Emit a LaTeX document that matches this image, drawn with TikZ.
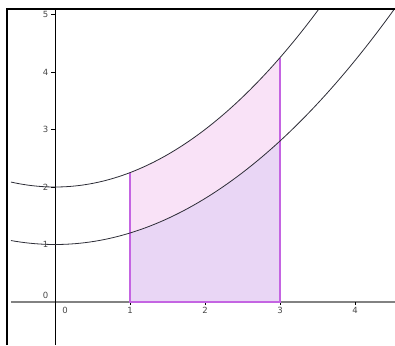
\documentclass[tikz,border=0pt]{standalone}
\usepackage{fontspec}
\setmainfont{DejaVu Sans}
\definecolor{axisgray}{RGB}{130,130,130}
\definecolor{labelgray}{RGB}{70,70,70}
\definecolor{upperfill}{RGB}{249,226,247}
\definecolor{lowerfill}{RGB}{233,214,245}
\definecolor{edgeviolet}{RGB}{196,100,226}
\definecolor{curvegray}{RGB}{45,45,55}

\begin{document}
\begin{tikzpicture}[
    x=75pt, y=57.5pt,
    curve/.style={curvegray, line width=0.8pt},
    edge/.style={edgeviolet, line width=1.4pt},
    lbl/.style={font=\fontsize{8.5}{9}\selectfont, text=labelgray, inner sep=0pt}
  ]
    \useasboundingbox (-0.7333,-0.7478) rectangle (4.5333,5.2522);

    % areas between x=1 and x=3
    \fill[upperfill] (1,0) -- plot[domain=1:3, samples=40] (\x,{2+\x*\x/4}) -- (3,0) -- cycle;
    \fill[lowerfill] (1,0) -- plot[domain=1:3, samples=40] (\x,{1+\x*\x/5}) -- (3,0) -- cycle;

    % axes
    \draw[axisgray, line width=1.5pt] (-0.587,0) -- (4.5333,0);
    \draw[black, line width=0.8pt] (0,-0.7478) -- (0,5.1);
    \foreach \y in {1,...,5}
      \draw[black, line width=0.6pt] (0,\y) -- ++(-4pt,0);
    \foreach \x in {1,...,4}
      \draw[black, line width=0.6pt] (\x,0) -- ++(0,-3pt);

    % borders of the areas
    \draw[edge] (1,2.25) -- (1,0) -- (3,0) -- (3,4.25);

    % the two curves
    \begin{scope}
      \clip (-0.64,-0.7478) rectangle (4.5333,5.0957);
      \draw[curve] plot[domain=-0.587:3.6, samples=80] (\x,{2+\x*\x/4});
      \draw[curve] plot[domain=-0.587:4.6, samples=80] (\x,{1+\x*\x/5});
    \end{scope}

    % labels
    \foreach \y in {1,...,5}
      \node[lbl, anchor=east] (ylbl\y) at ([xshift=-6.5pt]0,\y) {\y};
    \node[lbl, anchor=east] (ylbl0) at ([xshift=-6.5pt, yshift=7pt]0,0) {0};
    \foreach \x in {1,...,4}
      \node[lbl] (xlbl\x) at ([yshift=-8.5pt]\x,0) {\x};
    \node[lbl] (xlbl0) at ([xshift=10pt, yshift=-8.5pt]0,0) {0};

    % frame
    \draw[black, line width=2.2pt] (-0.64,-0.7478) -- (-0.64,5.0957) -- (4.5333,5.0957);
  \end{tikzpicture}
\end{document}
